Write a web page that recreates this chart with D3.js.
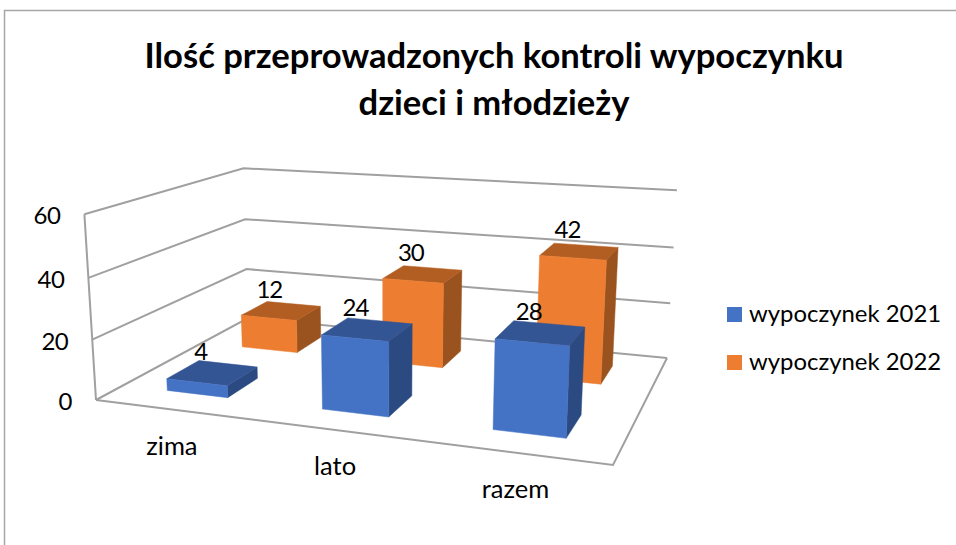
<!DOCTYPE html>
<html lang="pl"><head><meta charset="utf-8">
<script src="https://cdn.jsdelivr.net/npm/d3@7"></script>
<style>html,body{margin:0;padding:0;background:#fff}svg{display:block}text{font-family:Lato,"Open Sans",sans-serif;fill:#000}</style>
</head><body><svg id="c" width="956" height="545"></svg>
<script>
const categories = ["zima", "lato", "razem"];
const seriesNames = ["wypoczynek 2021", "wypoczynek 2022"];
const values2021 = [4, 24, 28];
const values2022 = [12, 30, 42];
const valueTicks = [0, 20, 40, 60];
const titleLines = ["Ilość przeprowadzonych kontroli wypoczynku", "dzieci i młodzieży"];

// picture-plane calibration of the 3-D box (layout only)
const floorCorners = [[[0,0],[96,400]],[[1,0],[613,465]],[[1,1],[667,358]],[[0,1],[248,318]]];
const topCorners = [[[0,0],[85,215]],[[0,1],[243,167]],[[1,1],[677,191]]];
const colors = {
  s0:{front:"#4472C4",top:"#345594",side:"#2B4A82"},
  s1:{front:"#ED7D31",top:"#B25E22",side:"#9A521E"}
};
const axisColor = "#A0A0A0";

function solve(A,b){
  const n=b.length, M=A.map((r,i)=>[...r,b[i]]);
  for(let i=0;i<n;i++){
    let p=i; for(let k=i+1;k<n;k++) if(Math.abs(M[k][i])>Math.abs(M[p][i])) p=k;
    [M[i],M[p]]=[M[p],M[i]];
    for(let k=i+1;k<n;k++){const f=M[k][i]/M[i][i]; for(let j=i;j<=n;j++) M[k][j]-=f*M[i][j];}
  }
  const x=new Array(n).fill(0);
  for(let i=n-1;i>=0;i--){let s=M[i][n]; for(let j=i+1;j<n;j++) s-=M[i][j]*x[j]; x[i]=s/M[i][i];}
  return x;
}
// floor homography
const A8=[],b8=[];
floorCorners.forEach(([[u,v],[x,y]])=>{
  A8.push([u,v,1,0,0,0,-u*x,-v*x]);b8.push(x);
  A8.push([0,0,0,u,v,1,-u*y,-v*y]);b8.push(y);
});
const h=solve(A8,b8); // a b c d e f g i (+1)
// vertical column from the top corners by least squares
const R=[],r=[];
topCorners.forEach(([[u,v],[x,y]])=>{
  const W=h[6]*u+h[7]*v+1;
  R.push([1,0,-x]); r.push(x*W-(h[0]*u+h[1]*v+h[2]));
  R.push([0,1,-y]); r.push(y*W-(h[3]*u+h[4]*v+h[5]));
});
const N=[0,1,2].map(i=>[0,1,2].map(j=>d3.sum(R,row=>row[i]*row[j])));
const nb=[0,1,2].map(i=>d3.sum(R,(row,k)=>row[i]*r[k]));
const cz=solve(N,nb);
function project(u,v,t){
  const W=h[6]*u+h[7]*v+cz[2]*t+1;
  return [(h[0]*u+h[1]*v+cz[0]*t+h[2])/W,(h[3]*u+h[4]*v+cz[1]*t+h[5])/W];
}

const uScale=d3.scaleBand().domain(categories).range([0,1]).paddingInner(0.6).paddingOuter(0.3);
const vScale=d3.scaleBand().domain([0,1]).range([0,1]).paddingInner(0.6).paddingOuter(0.3);
const tScale=d3.scaleLinear().domain([0,60]).range([0,1]);

const svg=d3.select("#c");
const line=d3.line();

// chart frame
svg.append("path").attr("d","M4.5,545V10.5H956").attr("fill","none").attr("stroke","#A6A6A6").attr("stroke-width",1.5);

// title
svg.selectAll("text.title").data(titleLines).join("text").attr("class","title")
  .attr("x",494).attr("y",(d,i)=>68+i*47).attr("text-anchor","middle")
  .attr("font-size",34.6).attr("font-weight",700).text(d=>d);

// walls
const g=svg.append("g").attr("fill","none").attr("stroke",axisColor).attr("stroke-width",2).attr("stroke-linejoin","miter");
valueTicks.forEach(d=>{
  const t=tScale(d);
  g.append("path").attr("d",line([project(0,0,t),project(0,1,t),project(1,1,t)]));
});
g.append("path").attr("d",line([project(0,0,1),project(0,0,0)]));
g.append("path").attr("d",line([project(0,0,0),project(1,0,0),project(1,1,0)]));

// bars
const bars=[];
[values2022,values2021].forEach((vals,k)=>{
  const s=k===0?1:0;
  vals.forEach((val,i)=>bars.push({cat:categories[i],s,val}));
});
const gb=svg.append("g");
bars.forEach(b=>{
  const u0=uScale(b.cat),u1=u0+uScale.bandwidth();
  const v0=vScale(b.s),v1=v0+vScale.bandwidth();
  const t=tScale(b.val), c=colors["s"+b.s];
  const poly=(pts,fill)=>gb.append("path").attr("d",line(pts)+"Z").attr("fill",fill).attr("stroke",fill).attr("stroke-width",.5);
  poly([project(u1,v0,0),project(u1,v1,0),project(u1,v1,t),project(u1,v0,t)],c.side);
  poly([project(u0,v0,t),project(u1,v0,t),project(u1,v1,t),project(u0,v1,t)],c.top);
  poly([project(u0,v0,0),project(u1,v0,0),project(u1,v0,t),project(u0,v0,t)],c.front);
});

// value labels
const labelFont=24;
bars.forEach(b=>{
  const u=uScale(b.cat)+uScale.bandwidth()/2, v=vScale(b.s)+vScale.bandwidth()/2;
  const [x,y]=project(u,v,tScale(b.val));
  svg.append("text").attr("x",x-12).attr("y",y-13).attr("text-anchor","middle").attr("font-size",labelFont).attr("letter-spacing",-1).text(b.val);
});

// value tick labels
valueTicks.forEach(d=>{
  const [x,y]=project(0,0,tScale(d));
  svg.append("text").attr("x",x-24).attr("y",y+10).attr("text-anchor","end").attr("font-size",labelFont).attr("letter-spacing",-0.5).text(d);
});

// category labels
categories.forEach(c=>{
  const [x,y]=project(uScale(c)+uScale.bandwidth()/2,0,0);
  svg.append("text").attr("x",x).attr("y",y+45).attr("text-anchor","middle").attr("font-size",25.5).text(c);
});

// legend
seriesNames.forEach((n,i)=>{
  const y=307+i*48;
  svg.append("rect").attr("x",727).attr("y",y).attr("width",15).attr("height",15).attr("fill",colors["s"+i].front);
  svg.append("text").attr("x",749).attr("y",y+15).attr("font-size",23.9).text(n);
});
</script></body></html>
